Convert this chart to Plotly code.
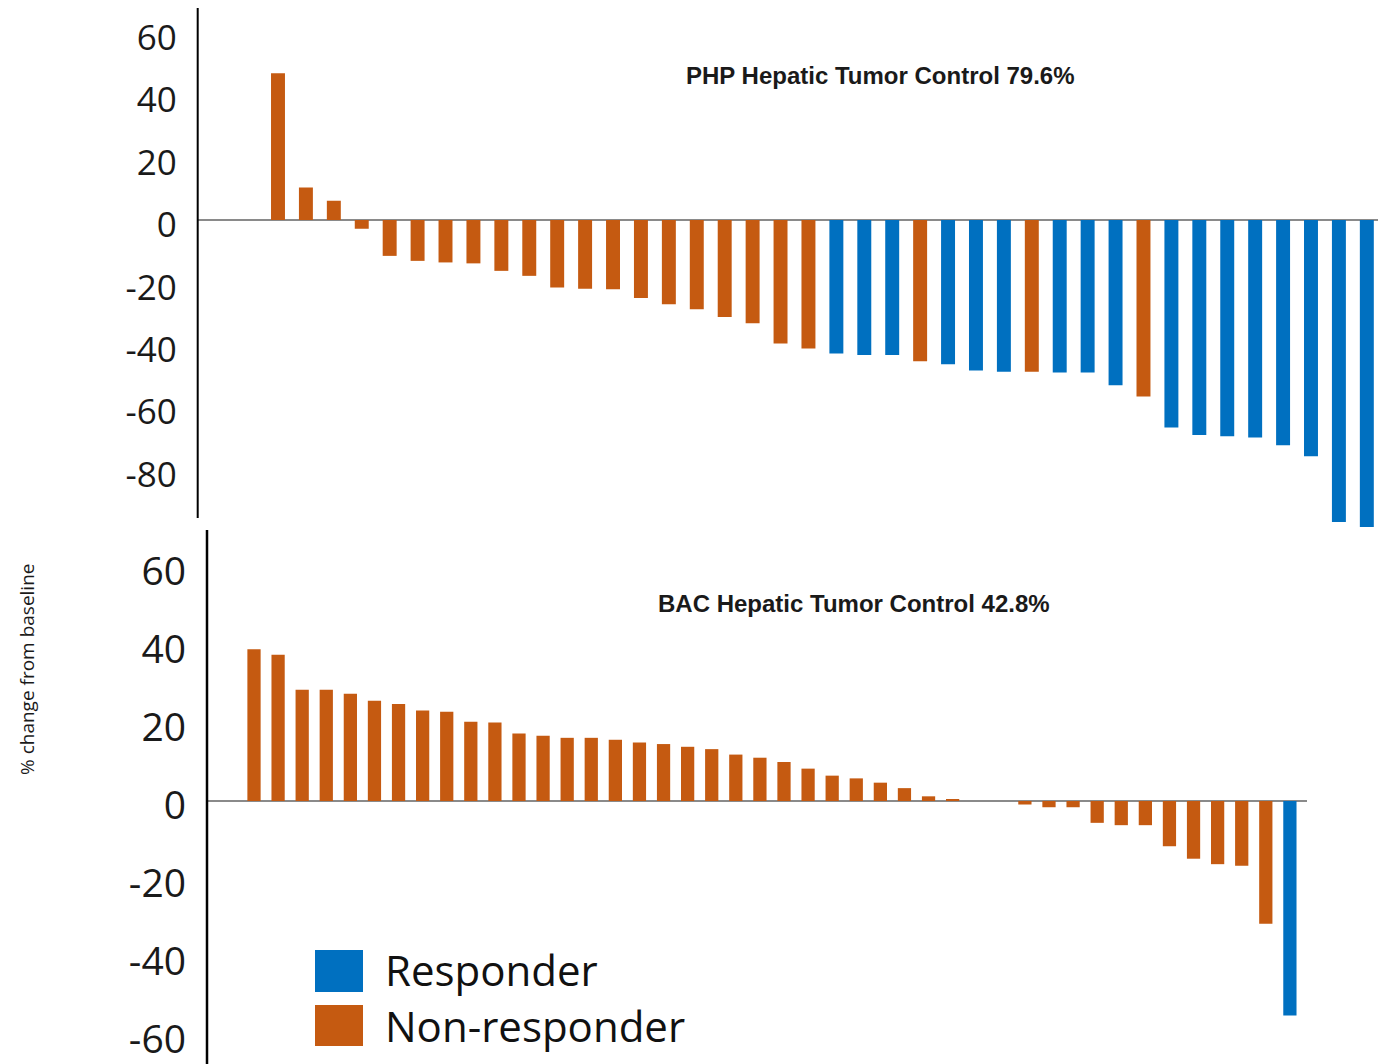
import plotly.graph_objects as go

W, H = 1378, 1064
ORANGE = "#C55A11"
BLUE = "#0070C0"
STATUS_COLORS = {"R": BLUE, "N": ORANGE}

# ---------------- data ----------------
php_patients = [f"PHP-{i + 1}" for i in range(40)]
php_change = [47.0, 10.4, 6.2, -2.8, -11.5, -13.1, -13.6, -13.9, -16.3, -17.9,
              -21.6, -22.0, -22.2, -25.0, -27.0, -28.6, -31.1, -33.1, -39.6, -41.2,
              -42.8, -43.3, -43.3, -45.3, -46.2, -48.2, -48.6, -48.6, -48.9, -48.9,
              -53.0, -56.6, -66.5, -68.9, -69.3, -69.7, -72.2, -75.7, -96.8, -98.4]
php_status = list("NNNNNNNNNNNNNNNNNNNN" "RRRN" "RRRN" "RRRN" "RRRRRRRR")

bac_patients = [f"BAC-{i + 1}" for i in range(44)]
bac_change = [38.9, 37.5, 28.5, 28.5, 27.5, 25.7, 24.9, 23.2, 22.9, 20.3,
              20.1, 17.3, 16.7, 16.2, 16.2, 15.7, 15.0, 14.6, 13.9, 13.3,
              11.9, 11.1, 10.0, 8.3, 6.5, 5.8, 4.7, 3.3, 1.2, 0.4,
              0.0, 0.0, -0.9, -1.6, -1.6, -5.6, -6.2, -6.2, -11.6, -14.8,
              -16.2, -16.6, -31.5, -55.0]
bac_status = list("NNNNNNNNNNNNNNNNNNNNNNNNNNNNNNNNNNNNNNNNNNNR")

tick_vals_top = [-80, -60, -40, -20, 0, 20, 40, 60]
tick_vals_bottom = [-60, -40, -20, 0, 20, 40, 60]

php_title = "PHP Hepatic Tumor Control 79.6%"
bac_title = "BAC Hepatic Tumor Control 42.8%"
y_title = "% change from baseline"
legend_items = [("Responder", "R"), ("Non-responder", "N")]

# ---------------- figure ----------------
fig = go.Figure()
fig.add_trace(go.Bar(
    x=php_patients, y=php_change,
    marker=dict(color=[STATUS_COLORS[s] for s in php_status], line=dict(width=0)),
    width=0.5, xaxis="x", yaxis="y", showlegend=False))
fig.add_trace(go.Bar(
    x=bac_patients, y=bac_change,
    marker=dict(color=[STATUS_COLORS[s] for s in bac_status], line=dict(width=0)),
    width=0.55, xaxis="x2", yaxis="y2", showlegend=False))

tick_font_top = dict(family="Open Sans, Noto Sans, sans-serif", size=35, color="#1a1a1a")
tick_font_bot = dict(family="Open Sans, Noto Sans, sans-serif", size=39, color="#1a1a1a")

fig.update_layout(
    width=W, height=H,
    margin=dict(l=0, r=0, t=0, b=0),
    paper_bgcolor="white", plot_bgcolor="rgba(0,0,0,0)",
    xaxis=dict(domain=[197.7 / W, 1.0], range=[-2.876, 39.40], type="category",
               anchor="y", visible=False),
    yaxis=dict(domain=[1 - 530 / H, 1 - 8 / H], range=[-99.36, 67.95], anchor="x",
               tickvals=tick_vals_top, ticktext=[str(v) for v in tick_vals_top],
               showgrid=False, showline=False, ticks="",
               zeroline=True, zerolinecolor="#8a8a8a", zerolinewidth=2,
               tickfont=tick_font_top, ticklabelstandoff=20, ticklabelshift=5,
               ticklabeloverflow="allow"),
    xaxis2=dict(domain=[207 / W, 1307 / W], range=[-1.951, 43.71], type="category",
                anchor="y2", visible=False),
    yaxis2=dict(domain=[0, 1 - 530 / H], range=[-67.44, 69.49], anchor="x2",
                tickvals=tick_vals_bottom, ticktext=[str(v) for v in tick_vals_bottom],
                showgrid=False, showline=False, ticks="",
                zeroline=True, zerolinecolor="#8a8a8a", zerolinewidth=2,
                tickfont=tick_font_bot, ticklabelstandoff=20, ticklabelshift=4,
                ticklabeloverflow="allow"),
)

shapes = [
    dict(type="line", xref="paper", yref="paper", x0=197.7 / W, x1=197.7 / W,
         y0=1 - 8 / H, y1=1 - 518 / H, line=dict(color="black", width=2)),
    dict(type="line", xref="paper", yref="paper", x0=207 / W, x1=207 / W,
         y0=1 - 530 / H, y1=0, line=dict(color="black", width=2.5)),
]
legend_rows = [(950, 992, 969), (1005, 1046, 1025)]
annotations = [
    dict(text=f"<b>{php_title}</b>", xref="paper", yref="paper", x=880.5 / W, y=1 - 76 / H,
         xanchor="center", yanchor="middle", showarrow=False,
         font=dict(family="Liberation Sans, Arial, sans-serif", size=24, color="#1a1a1a")),
    dict(text=f"<b>{bac_title}</b>", xref="paper", yref="paper", x=854 / W, y=1 - 603 / H,
         xanchor="center", yanchor="middle", showarrow=False,
         font=dict(family="Liberation Sans, Arial, sans-serif", size=24, color="#1a1a1a")),
    dict(text=y_title, xref="paper", yref="paper", x=27 / W, y=1 - 670 / H,
         xanchor="center", yanchor="middle", textangle=-90, showarrow=False,
         font=dict(family="Open Sans, Noto Sans, sans-serif", size=19, color="#1a1a1a")),
]
for (label, status), (top, bot, mid) in zip(legend_items, legend_rows):
    shapes.append(dict(type="rect", xref="paper", yref="paper",
                       x0=315 / W, x1=363 / W, y0=1 - top / H, y1=1 - bot / H,
                       fillcolor=STATUS_COLORS[status], line=dict(width=0)))
    annotations.append(dict(text=label, xref="paper", yref="paper", x=383 / W, y=1 - mid / H,
                            xanchor="left", yanchor="middle", showarrow=False,
                            font=dict(family="Open Sans, Noto Sans, sans-serif", size=42,
                                      color="#111111")))

fig.update_layout(shapes=shapes, annotations=annotations)
fig.write_html("out.html", config={"displayModeBar": False},
               post_script="document.body.style.margin='0';document.body.style.overflow='hidden';")
